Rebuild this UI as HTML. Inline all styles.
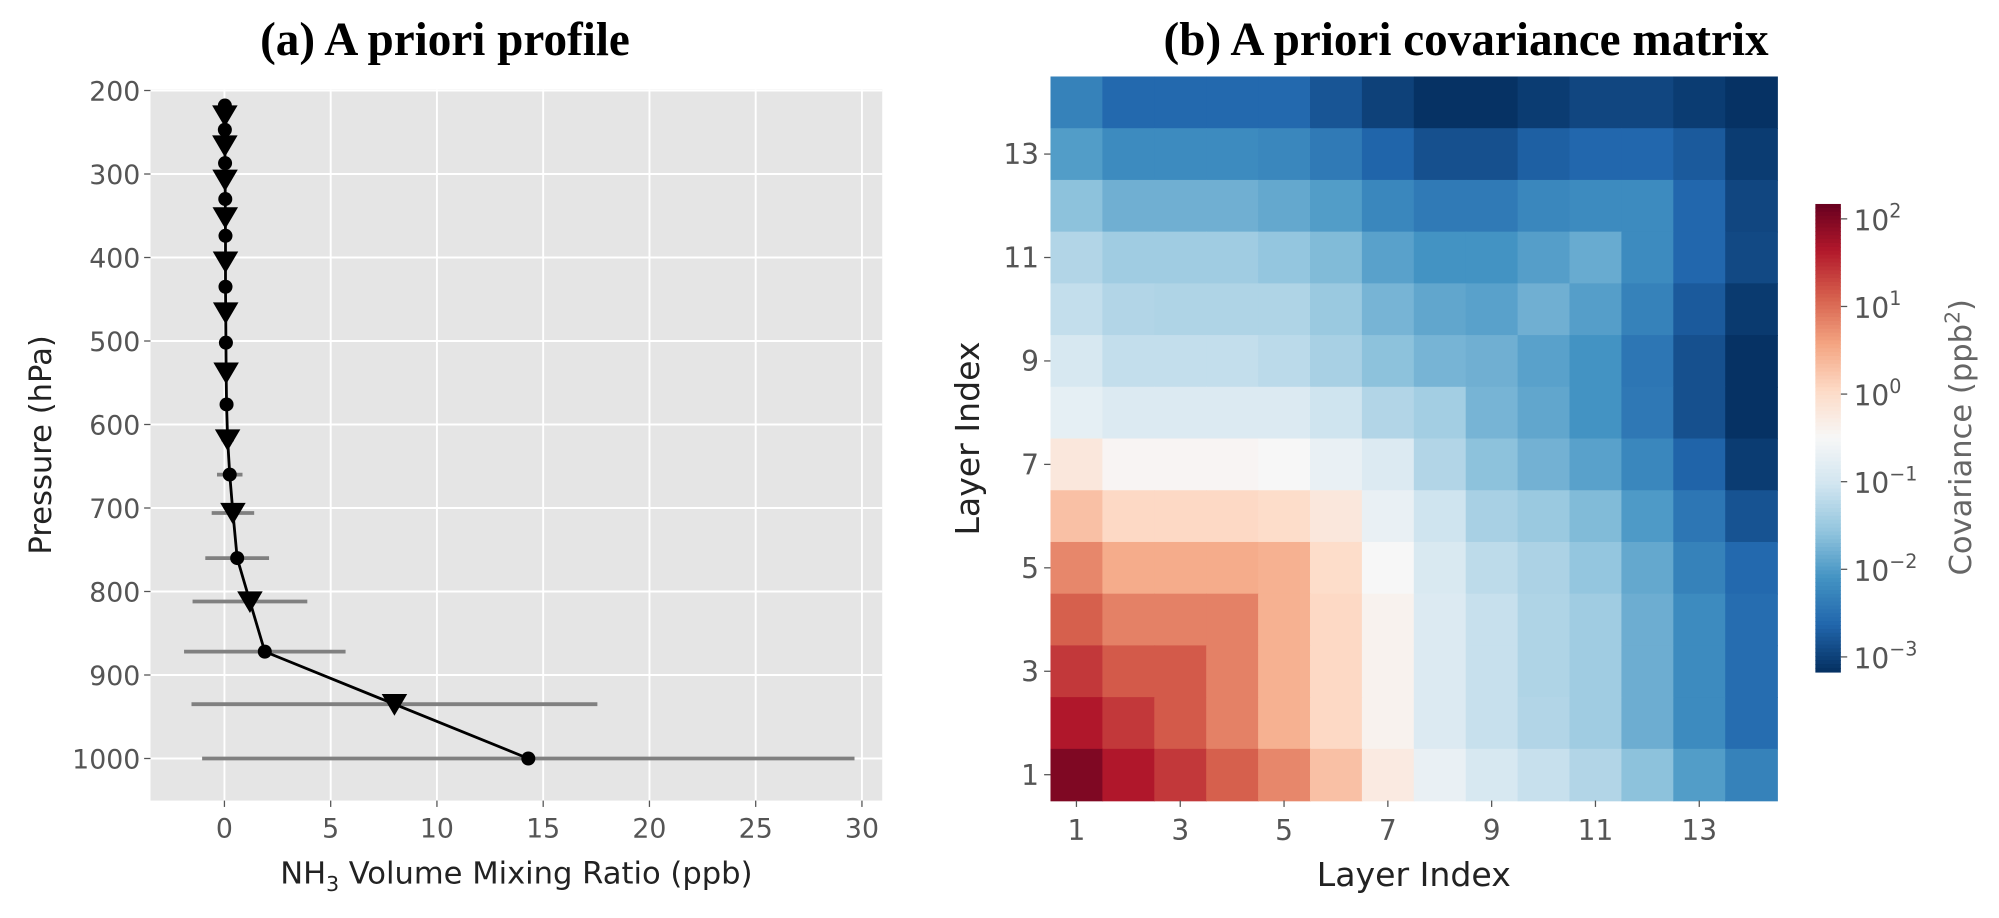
<!DOCTYPE html>
<html><head><meta charset="utf-8"><style>
body{margin:0;background:#fff;width:1999px;height:913px;overflow:hidden}
svg text{font-family:"DejaVu Sans","Liberation Sans",sans-serif}
</style></head><body>
<svg id="s" width="1999" height="913" viewBox="0 0 1568 716.2" xmlns="http://www.w3.org/2000/svg">
<text x="349" y="43" text-anchor="middle" font-weight="bold" font-size="37" style="font-family:'Liberation Serif',serif">(a) A priori profile</text>
<text x="1150" y="43" text-anchor="middle" font-weight="bold" font-size="37" style="font-family:'Liberation Serif',serif">(b) A priori covariance matrix</text>
<g id="pa"></g>
<g id="hm"></g>
</svg>
<script>
const pressures=[1000,935,872,812,760,706,660,618,576,538,502,466,435,405,374,352,330,307,287,266,247,230,218];
const vmr=[14.3,8.0,1.9,1.2,0.6,0.4,0.25,0.15,0.1,0.08,0.07,0.06,0.05,0.05,0.05,0.04,0.04,0.03,0.03,0.02,0.02,0.02,0.02];
const err=[15.35,9.55,3.8,2.7,1.5,1.0,0.6,0.3,0.15,0.1,0.08,0.06,0.05,0.04,0.04,0.03,0.03,0.03,0.02,0.02,0.02,0.02,0.02];
const xTicks=[0,5,10,15,20,25,30];
const yTicks=[200,300,400,500,600,700,800,900,1000];
const layers=[1,2,3,4,5,6,7,8,9,10,11,12,13,14];
const layerTicks=[1,3,5,7,9,11,13];
// log10 covariance, rows from layer 14 (top) to layer 1 (bottom)
const covLog=[
[-2.3,-2.6,-2.6,-2.6,-2.6,-2.8,-3.0,-3.15,-3.15,-3.05,-2.95,-2.95,-3.05,-3.15],
[-2.0,-2.2,-2.2,-2.2,-2.25,-2.4,-2.65,-2.85,-2.85,-2.7,-2.62,-2.62,-2.75,-3.05],
[-1.6,-1.8,-1.8,-1.8,-1.88,-2.0,-2.25,-2.4,-2.4,-2.25,-2.2,-2.2,-2.62,-2.95],
[-1.3,-1.45,-1.45,-1.45,-1.55,-1.68,-1.95,-2.1,-2.1,-1.98,-1.85,-2.2,-2.62,-2.92],
[-1.15,-1.3,-1.32,-1.32,-1.32,-1.5,-1.75,-1.9,-1.95,-1.8,-1.98,-2.3,-2.75,-3.07],
[-0.95,-1.15,-1.15,-1.15,-1.22,-1.38,-1.6,-1.75,-1.8,-1.95,-2.1,-2.45,-2.85,-3.15],
[-0.75,-0.88,-0.88,-0.88,-0.88,-1.05,-1.3,-1.42,-1.75,-1.9,-2.1,-2.42,-2.85,-3.15],
[-0.2,-0.45,-0.45,-0.45,-0.5,-0.7,-0.88,-1.3,-1.6,-1.78,-1.95,-2.25,-2.66,-3.05],
[0.3,0.05,0.05,0.05,0.0,-0.2,-0.7,-1.05,-1.38,-1.5,-1.68,-2.03,-2.45,-2.82],
[0.8,0.5,0.5,0.5,0.45,0.0,-0.5,-0.92,-1.2,-1.35,-1.55,-1.88,-2.3,-2.6],
[1.1,0.85,0.85,0.85,0.45,0.05,-0.4,-0.88,-1.12,-1.32,-1.45,-1.82,-2.2,-2.55],
[1.4,1.15,1.15,0.85,0.45,0.05,-0.4,-0.88,-1.12,-1.32,-1.45,-1.82,-2.2,-2.55],
[1.65,1.4,1.15,0.85,0.45,0.05,-0.4,-0.88,-1.12,-1.3,-1.45,-1.82,-2.2,-2.55],
[2.0,1.65,1.4,1.1,0.8,0.3,-0.25,-0.7,-0.95,-1.12,-1.3,-1.6,-2.0,-2.3]];
const cbTicks=[2,1,0,-1,-2,-3];

const NS="http://www.w3.org/2000/svg";
function mk(p,tag,at,txt){const e=document.createElementNS(NS,tag);for(const k in at)e.setAttribute(k,at[k]);if(txt!==undefined)e.textContent=txt;p.appendChild(e);return e;}
const pa=document.getElementById('pa');
const L=118,R=692,T=70,B=628;
const sx=v=>176+v*16.67, sy=p=>71+(p-200)*0.655;
let bg=mk(pa,'rect',{x:L,y:T,width:R-L,height:B-T,fill:'#e5e5e5'});


xTicks.forEach(v=>{const x=sx(v);
 mk(pa,'line',{x1:x,x2:x,y1:T,y2:B,stroke:'#fff','stroke-width':1.5});
 mk(pa,'line',{x1:x,x2:x,y1:B,y2:B+5,stroke:'#555'});
 const t=mk(pa,'text',{x:x,y:B+29,'text-anchor':'middle','font-size':21,fill:'#555'},v);
 
 });
yTicks.forEach(v=>{const y=sy(v);
 mk(pa,'line',{x1:L,x2:R,y1:y,y2:y,stroke:'#fff','stroke-width':1.5});
 mk(pa,'line',{x1:L-5,x2:L,y1:y,y2:y,stroke:'#555'});
 const t=mk(pa,'text',{x:L-8,y:y+8,'text-anchor':'end','font-size':21,fill:'#555'},v);
 
 });
pressures.forEach((p,i)=>{const y=sy(p);
 const l=mk(pa,'line',{x1:sx(vmr[i]-err[i]),x2:sx(vmr[i]+err[i]),y1:y,y2:y,stroke:'#808080','stroke-width':3});
 
 });
mk(pa,'polyline',{points:pressures.map((p,i)=>sx(vmr[i])+','+sy(p)).join(' '),fill:'none',stroke:'#000','stroke-width':2.2});
pressures.forEach((p,i)=>{const x=sx(vmr[i]),y=sy(p);let m;
 if(i%2===0){m=mk(pa,'circle',{cx:x,cy:y,r:5.5,fill:'#000'});}
 else{m=mk(pa,'polygon',{points:`${x-10},${y-8} ${x+10},${y-8} ${x},${y+9}`,fill:'#000'});}
 
 });
let xt=mk(pa,'text',{x:405,y:693,'text-anchor':'middle','font-size':24,fill:'#222'});
xt.innerHTML='NH<tspan font-size="16" dy="6">3</tspan><tspan dy="-6"> Volume Mixing Ratio (ppb)</tspan>';


let yt=mk(pa,'text',{x:0,y:0,'text-anchor':'middle','font-size':24,fill:'#222',transform:'translate(40,349) rotate(-90)'},'Pressure (hPa)');



const hm=document.getElementById('hm');
const HL=824,HR=1394,HT=60,HB=628,cw=(HR-HL)/14,ch=(HB-HT)/14;
const stops=['#053061','#2166ac','#4393c3','#92c5de','#d1e5f0','#f7f7f7','#fddbc7','#f4a582','#d6604d','#b2182b','#67001f'];
const VMIN=-3.17,VMAX=2.17;
function hex(h){return [1,3,5].map(i=>parseInt(h.substr(i,2),16));}
function cmap(t){t=Math.max(0,Math.min(1,t));const f=t*10,i=Math.min(9,Math.floor(f)),u=f-i;const a=hex(stops[i]),b=hex(stops[i+1]);return 'rgb('+a.map((c,k)=>Math.round(c+(b[k]-c)*u)).join(',')+')';}
function norm(v){return v<=-0.5?0.5*(v-VMIN)/(-0.5-VMIN):0.5+0.5*(v+0.5)/(VMAX+0.5);}
covLog.forEach((row,r)=>row.forEach((v,c)=>{
 const e=mk(hm,'rect',{x:HL+c*cw,y:HT+r*ch,width:cw+0.6,height:ch+0.6,fill:cmap(norm(v))});
 
 }));
layerTicks.forEach(v=>{const x=HL+(v-0.5)*cw;
 mk(hm,'line',{x1:x,x2:x,y1:HB,y2:HB+5,stroke:'#555'});
 const t=mk(hm,'text',{x:x,y:HB+31,'text-anchor':'middle','font-size':22,fill:'#555'},v);
 
 
 const y=HB-(v-0.5)*ch;
 mk(hm,'line',{x1:HL-5,x2:HL,y1:y,y2:y,stroke:'#555'});
 const t2=mk(hm,'text',{x:HL-9,y:y+8,'text-anchor':'end','font-size':22,fill:'#555'},v);
 
 });
let hx=mk(hm,'text',{x:1109,y:695,'text-anchor':'middle','font-size':26,fill:'#222'},'Layer Index');


let hy=mk(hm,'text',{x:0,y:0,'text-anchor':'middle','font-size':26,fill:'#222',transform:'translate(768,344) rotate(-90)'},'Layer Index');


const CL=1424,CW=20,CT=160,CB=527;
const cyv=v=>CB-(v-VMIN)/(VMAX-VMIN)*(CB-CT);
for(let i=0;i<120;i++){const y0=CT+i*(CB-CT)/120;const v=VMAX-(i+0.5)/120*(VMAX-VMIN);
 mk(hm,'rect',{x:CL,y:y0,width:CW,height:(CB-CT)/120+0.6,fill:cmap(norm(v))});}
cbTicks.forEach(v=>{const y=cyv(v);
 mk(hm,'line',{x1:CL+CW,x2:CL+CW+5,y1:y,y2:y,stroke:'#555'});
 const t=mk(hm,'text',{x:CL+CW+10,y:y+9,'font-size':22,fill:'#555'});
 t.innerHTML='10<tspan font-size="15" dy="-10">'+(v<0?'\u2212'+(-v):v)+'</tspan>';
 
 });
let ct=mk(hm,'text',{x:0,y:0,'text-anchor':'middle','font-size':24,fill:'#666',transform:'translate(1546,343) rotate(-90)'});
ct.innerHTML='Covariance (ppb<tspan font-size="16" dy="-9">2</tspan><tspan dy="9">)</tspan>';


</script>
</body></html>
